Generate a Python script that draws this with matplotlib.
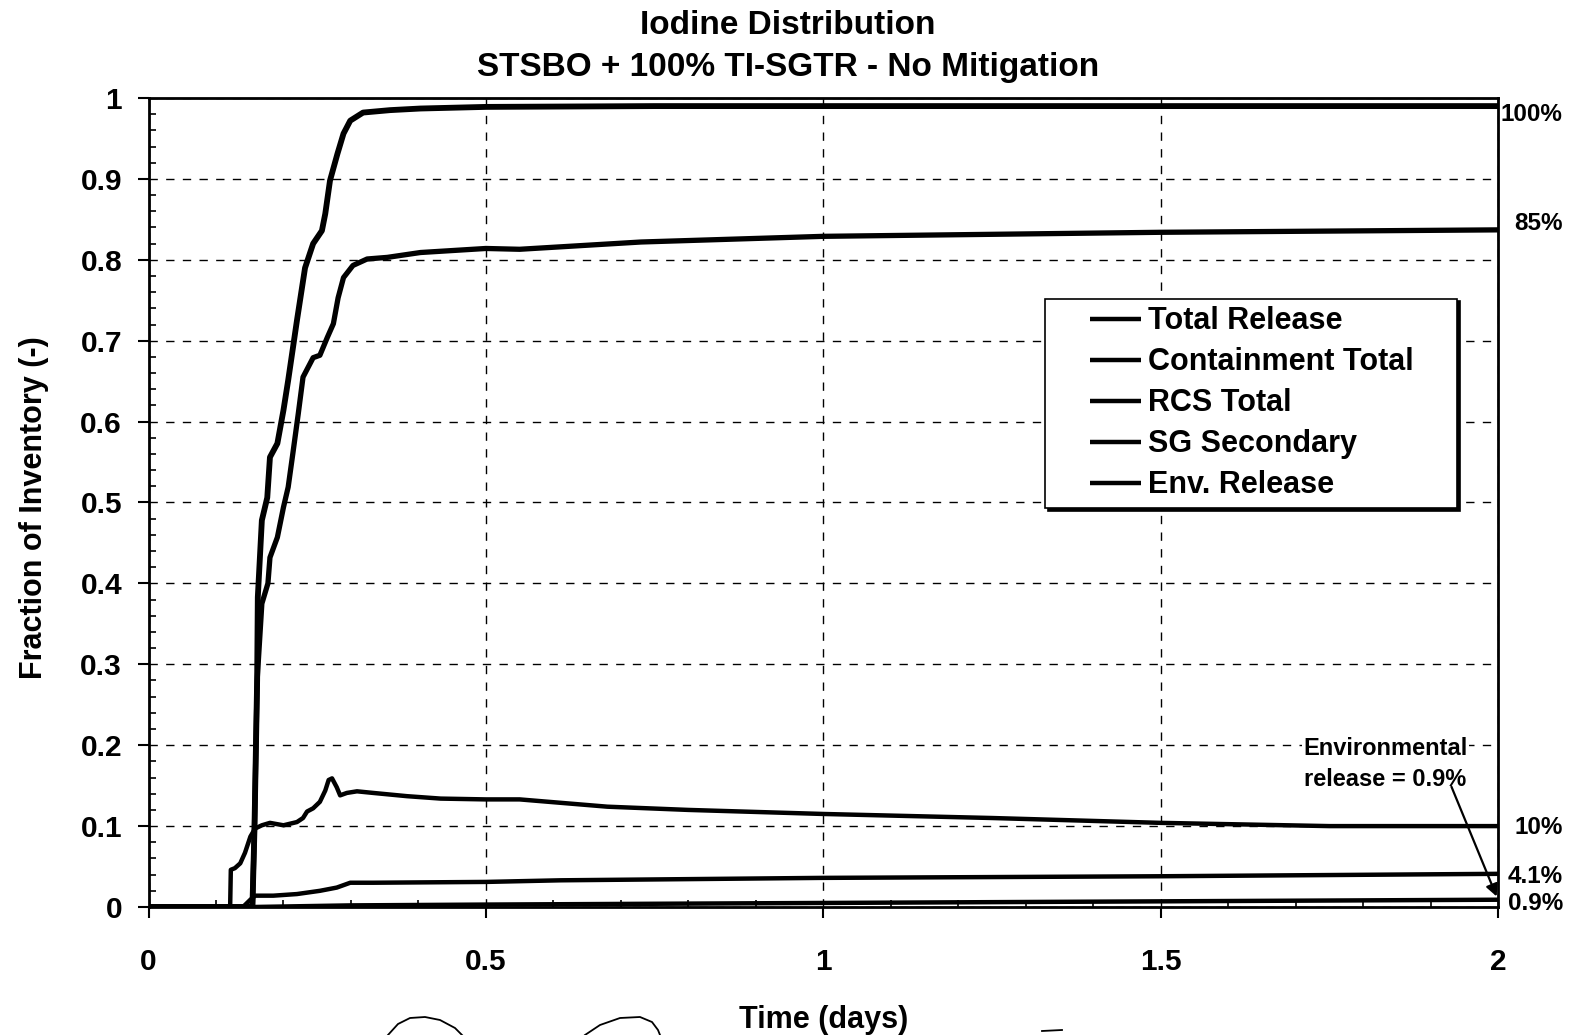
import numpy as np
import matplotlib
matplotlib.use('Agg')
import matplotlib.pyplot as plt
from matplotlib import ticker
from matplotlib.lines import Line2D
from matplotlib.legend_handler import HandlerLine2D

plt.rcParams['font.family'] = ['Liberation Sans', 'DejaVu Sans']
plt.rcParams['font.weight'] = 'bold'

# time (days) / fraction of iodine inventory for each location
t_total = [0, 0.154, 0.157, 0.161, 0.162, 0.168, 0.176, 0.180, 0.191, 0.200, 0.207,
           0.220, 0.232, 0.244, 0.257, 0.262, 0.269, 0.280, 0.289, 0.299, 0.318,
           0.358, 0.403, 0.5, 0.75, 1.0, 1.5, 2.0]
f_total = [0, 0, 0.095, 0.28, 0.383, 0.478, 0.506, 0.556, 0.573, 0.614, 0.651,
           0.725, 0.790, 0.820, 0.836, 0.857, 0.898, 0.931, 0.956, 0.972, 0.982,
           0.985, 0.987, 0.989, 0.990, 0.990, 0.990, 0.990]

t_cont = [0, 0.154, 0.157, 0.161, 0.168, 0.177, 0.180, 0.191, 0.200, 0.207, 0.214,
          0.222, 0.229, 0.244, 0.254, 0.259, 0.265, 0.274, 0.281, 0.289, 0.303,
          0.324, 0.354, 0.403, 0.5, 0.55, 0.73, 1.0, 1.5, 2.0]
f_cont = [0, 0, 0.095, 0.28, 0.375, 0.400, 0.432, 0.457, 0.494, 0.519, 0.561,
          0.610, 0.655, 0.679, 0.682, 0.692, 0.704, 0.721, 0.753, 0.778, 0.793,
          0.801, 0.803, 0.809, 0.814, 0.813, 0.822, 0.829, 0.834, 0.837]

t_rcs = [0, 0.121, 0.122, 0.128, 0.136, 0.143, 0.151, 0.158, 0.168, 0.180, 0.200,
         0.220, 0.229, 0.235, 0.244, 0.254, 0.262, 0.267, 0.272, 0.279, 0.284,
         0.294, 0.309, 0.333, 0.383, 0.433, 0.5, 0.55, 0.68, 0.8, 1.0, 1.25,
         1.5, 1.75, 2.0]
f_rcs = [0, 0, 0.046, 0.048, 0.054, 0.067, 0.087, 0.097, 0.101, 0.104, 0.101,
         0.105, 0.110, 0.118, 0.122, 0.130, 0.144, 0.157, 0.159, 0.148, 0.138,
         0.141, 0.143, 0.141, 0.137, 0.134, 0.133, 0.133, 0.124, 0.120, 0.115, 0.110,
         0.104, 0.100, 0.100]

t_sg = [0, 0.140, 0.151, 0.158, 0.185, 0.220, 0.254, 0.279, 0.299, 0.333, 0.5,
        0.611, 1.0, 1.5, 2.0]
f_sg = [0, 0, 0.009, 0.014, 0.014, 0.016, 0.020, 0.024, 0.030, 0.030, 0.031,
        0.033, 0.036, 0.038, 0.041]

t_env = [0, 0.155, 0.30, 0.5, 1.0, 1.5, 2.0]
f_env = [0, 0, 0.002, 0.003, 0.005, 0.007, 0.009]

end_labels = ['100%', '85%', '10%', '4.1%', '0.9%']
end_label_y = [0.979, 0.845, 0.098, 0.0375, 0.004]

fig = plt.figure(figsize=(15.76, 10.35), dpi=100)
ax = fig.add_axes([148.5 / 1576, 1 - 907 / 1035, 1349.5 / 1576, 809 / 1035])

kw = dict(color='k', solid_joinstyle='round', solid_capstyle='butt')
ax.plot(t_total, f_total, lw=4.2, label='Total Release', **kw)
ax.plot(t_cont, f_cont, lw=3.8, label='Containment Total', **kw)
ax.plot(t_rcs, f_rcs, lw=3.2, label='RCS Total', **kw)
ax.plot(t_sg, f_sg, lw=3.2, label='SG Secondary', **kw)
ax.plot(t_env, f_env, lw=3.2, label='Env. Release', **kw)

ax.set_xlim(0, 2)
ax.set_ylim(0, 1)
ax.xaxis.set_major_locator(ticker.MultipleLocator(0.5))
ax.xaxis.set_minor_locator(ticker.MultipleLocator(0.1))
ax.yaxis.set_major_locator(ticker.MultipleLocator(0.1))
ax.yaxis.set_minor_locator(ticker.MultipleLocator(0.02))
ax.xaxis.set_major_formatter(ticker.FormatStrFormatter('%g'))
ax.yaxis.set_major_formatter(ticker.FormatStrFormatter('%g'))
ax.tick_params(which='major', direction='out', length=8, width=1.5, labelsize=21.5)
ax.tick_params(axis='x', which='major', pad=21.5)
ax.tick_params(axis='y', which='major', pad=11)
ax.tick_params(which='minor', direction='in', length=5, width=1.2)
ax.grid(True, which='major', ls=(0, (6, 6)), lw=1.0, color='k')
for s in ax.spines.values():
    s.set_linewidth(2)

ax.set_xlabel('Time (days)', fontsize=22, fontweight='bold')
ax.set_ylabel('Fraction of Inventory (-)', fontsize=22, fontweight='bold')
ax.xaxis.set_label_coords(0.5, -0.121)
ax.yaxis.set_label_coords(-0.0737, 0.494)

fig.text(0.5, 1 - 34 / 1035, 'Iodine Distribution', ha='center', va='baseline',
         fontsize=24, fontweight='bold')
fig.text(0.5, 1 - 76 / 1035, 'STSBO + 100% TI-SGTR - No Mitigation', ha='center',
         va='baseline', fontsize=24, fontweight='bold')

leg = ax.legend(loc='upper left', bbox_to_anchor=(0.6643, 0.45, 0.3053, 0.302),
                mode='expand', borderaxespad=0, handlelength=2.89, handletextpad=0.23,
                borderpad=0.25, labelspacing=0.36, fontsize=22, fancybox=False,
                edgecolor='k', framealpha=1, shadow={'color': 'k', 'alpha': 1},
                handler_map={Line2D: HandlerLine2D(xpad=1.22)})
leg.get_frame().set_linewidth(1.2)
for hl in leg.get_lines():
    hl.set_linewidth(3.2)

# percent labels at the right-hand end of each curve
for lab, yv in zip(end_labels, end_label_y):
    ax.text(2.096, yv, lab, ha='right', va='center', fontsize=17.5,
            fontweight='bold', clip_on=False)

ax.text(1.833, 0.177, 'Environmental\nrelease = 0.9%', ha='center', va='center',
        multialignment='center', fontsize=17, fontweight='bold', linespacing=1.45,
        bbox=dict(facecolor='white', edgecolor='none', pad=1))
ax.annotate('', xy=(1.998, 0.013), xytext=(1.931, 0.1487),
            arrowprops=dict(arrowstyle='-|>', color='k', lw=1.6, mutation_scale=18,
                            shrinkA=0, shrinkB=0))

# pen marks along the bottom edge of the page
def pen(pts):
    xs = [p[0] / 1576 for p in pts]
    ys = [1 - p[1] / 1035 for p in pts]
    fig.add_artist(Line2D(xs, ys, transform=fig.transFigure, color='k', lw=1.3))

pen([(388, 1035), (398, 1024), (410, 1018), (425, 1017), (440, 1020), (455, 1028), (462, 1035)])
pen([(585, 1035), (600, 1025), (620, 1018), (640, 1017), (652, 1022), (658, 1030), (660, 1035)])
pen([(1042, 1031), (1062, 1030)])

fig.savefig('out.png', dpi=100)
